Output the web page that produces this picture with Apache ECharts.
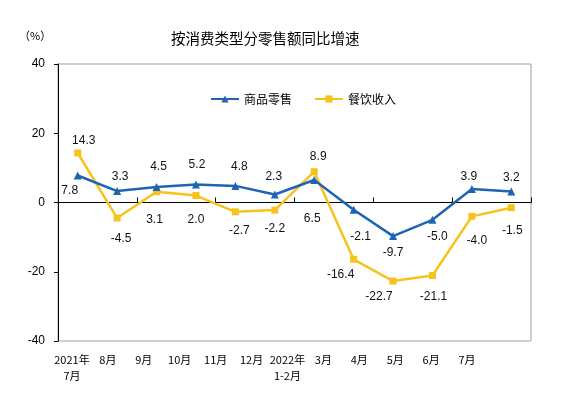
<!DOCTYPE html>
<html>
<head>
<meta charset="utf-8">
<script src="https://cdn.jsdelivr.net/npm/echarts@6/dist/echarts.min.js"></script>
<style>
  html, body { margin: 0; padding: 0; background: #fff; }
  #chart { width: 570px; height: 397px; }
</style>
</head>
<body>
<div id="chart"></div>
<script>
const months = ['2021年\n7月', '8月', '9月', '10月', '11月', '12月', '2022年\n1-2月', '3月', '4月', '5月', '6月', '7月'];
const goodsRetail = [7.8, 3.3, 4.5, 5.2, 4.8, 2.3, 6.5, -2.1, -9.7, -5.0, 3.9, 3.2];
const cateringIncome = [14.3, -4.5, 3.1, 2.0, -2.7, -2.2, 8.9, -16.4, -22.7, -21.1, -4.0, -1.5];
const yTicks = [-40, -20, 0, 20, 40];

// where each value label sits relative to its point (px)
const goodsLabelShift = [[-8, 15], [3, -14], [2, -20], [1, -20], [4, -19], [-1, -18],
  [-2, 39], [7, 27], [0, 17], [5, 17], [-3, -12], [0, -14]];
const cateringLabelShift = [[6, -12], [4, 21], [-2, 28], [0, 24], [4, 19], [0, 19],
  [4, -15], [-13, 15], [-14, 16], [1, 21], [5, 24], [1, 23]];

const BLUE = '#1f64b3';
const YELLOW = '#f6c31c';
const numFont = '"Liberation Sans", Arial, sans-serif';
const cjkFont = '"Noto Sans CJK SC", sans-serif';

function withLabels(values, shifts) {
  return values.map((v, i) => ({
    value: v,
    label: {offset: shifts[i]}
  }));
}

const chart = echarts.init(document.getElementById('chart'), null, {renderer: 'canvas'});

const labelBase = {
  show: true,
  position: 'inside',
  color: '#111',
  textBorderWidth: 0,
  fontFamily: numFont,
  fontSize: 12,
  formatter: p => p.value.toFixed(1)
};

chart.setOption({
  animation: false,
  backgroundColor: '#fff',
  title: {
    text: '按消费类型分零售额同比增速',
    left: 166,
    top: 26,
    textStyle: {fontFamily: cjkFont, fontSize: 14.5, fontWeight: 'normal', color: '#000'}
  },
  graphic: [{
    type: 'text',
    left: 19,
    top: 30,
    style: {text: '（%）', font: '11px ' + cjkFont, fill: '#000'}
  }],
  legend: {
    left: 205,
    top: 88,
    itemWidth: 28,
    itemHeight: 9,
    itemGap: 22,
    textStyle: {fontFamily: cjkFont, fontSize: 12, color: '#000'},
    data: ['商品零售', '餐饮收入']
  },
  grid: [
    {left: 58, top: 64, right: 39, bottom: 56, show: true, borderColor: '#a0a0a0', borderWidth: 1},
    {left: 54, top: 64, width: 431, bottom: 56, show: false}
  ],
  xAxis: [{
    type: 'category',
    gridIndex: 0,
    data: months,
    boundaryGap: true,
    axisLine: {onZero: true, lineStyle: {color: '#000', width: 1}},
    axisTick: {show: true, inside: true, length: 5, lineStyle: {color: '#000'}},
    axisLabel: {show: false},
    splitLine: {show: false}
  }, {
    type: 'category',
    gridIndex: 1,
    data: months,
    axisLine: {show: false},
    axisTick: {show: false},
    axisLabel: {
      margin: 11,
      fontFamily: cjkFont,
      fontSize: 11,
      lineHeight: 16,
      color: '#000',
      interval: 0
    }
  }],
  yAxis: [{
    type: 'value',
    gridIndex: 0,
    min: yTicks[0],
    max: yTicks[yTicks.length - 1],
    interval: 20,
    axisLine: {show: true, lineStyle: {color: '#000', width: 1}},
    axisTick: {show: true, inside: false, length: 4, lineStyle: {color: '#000'}},
    axisLabel: {margin: 13, fontFamily: numFont, fontSize: 12, color: '#000'},
    splitLine: {show: false}
  }, {
    type: 'value',
    gridIndex: 1,
    show: false
  }],
  series: [{
    name: '商品零售',
    type: 'line',
    xAxisIndex: 0,
    yAxisIndex: 0,
    data: withLabels(goodsRetail, goodsLabelShift),
    symbol: 'triangle',
    symbolSize: 8,
    lineStyle: {color: BLUE, width: 2.5},
    itemStyle: {color: BLUE},
    label: labelBase,
    z: 3
  }, {
    name: '餐饮收入',
    type: 'line',
    xAxisIndex: 0,
    yAxisIndex: 0,
    data: withLabels(cateringIncome, cateringLabelShift),
    symbol: 'rect',
    symbolSize: 7,
    lineStyle: {color: YELLOW, width: 2.5},
    itemStyle: {color: YELLOW},
    label: labelBase,
    z: 2
  }]
});
</script>
</body>
</html>
